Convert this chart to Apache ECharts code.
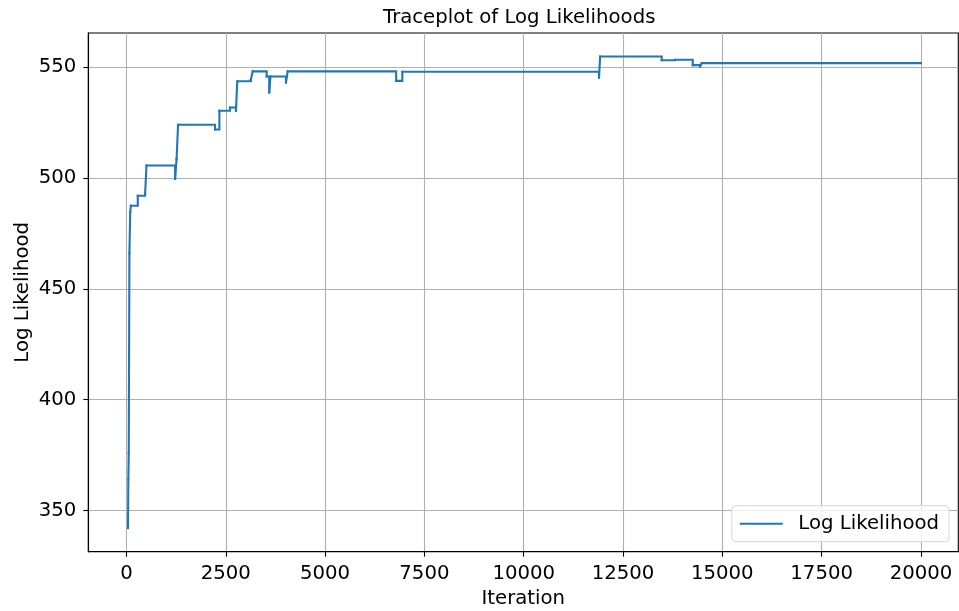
<!DOCTYPE html>
<html>
<head>
<meta charset="utf-8">
<script src="https://cdn.jsdelivr.net/npm/echarts@6/dist/echarts.min.js"></script>
<style>
html,body{margin:0;padding:0;background:#fff;}
#chart{width:959px;height:611px;}
</style>
</head>
<body>
<div id="chart"></div>
<script>
// Data (step-wise accepted states)
var iterations = [40, 48, 58, 75, 95, 112, 285, 470, 505, 1225, 1262, 1300, 2230, 2340, 2608, 2757, 2790, 3130, 3180, 3530, 3595, 3625, 4016, 4060, 6790, 6945, 11895, 11925, 13475, 13810, 14255, 14440, 14480, 20000];
var logLik = [342, 364, 376, 466, 484.7, 487.5, 492.0, 492.8, 505.6, 499.6, 508.5, 524.0, 521.9, 530.3, 531.8, 530.3, 543.6, 544.2, 548.1, 545.8, 538.6, 545.8, 543.1, 548.1, 543.8, 547.9, 545.3, 554.8, 553.1, 553.3, 550.9, 550.3, 551.8, 551.8];
var xTicks = [0, 2500, 5000, 7500, 10000, 12500, 15000, 17500, 20000];
var yTicks = [350, 400, 450, 500, 550];

var FS = 19.7;
var FONT = 'DejaVu Sans';
var LINE_COLOR = '#1f77b4';
function plain(v) { return String(v); }

// one short path per held state (hold value, then jump), so that tiny
// sub-pixel moves never swallow the long horizontal holds
var series = [];
for (var i = 0; i < iterations.length - 1; i++) {
  series.push({
    name: 'Log Likelihood',
    type: 'line',
    data: [[iterations[i], logLik[i]], [iterations[i + 1], logLik[i]], [iterations[i + 1], logLik[i + 1]]],
    showSymbol: false,
    symbol: 'none',
    lineStyle: {color: LINE_COLOR, width: 2.1, cap: 'square', join: 'miter'},
    itemStyle: {color: LINE_COLOR},
    clip: true,
    silent: true
  });
}

var chart = echarts.init(document.getElementById('chart'), null, {renderer: 'canvas'});
chart.setOption({
  animation: false,
  backgroundColor: '#ffffff',
  textStyle: {fontFamily: FONT},
  title: {
    text: 'Traceplot of Log Likelihoods',
    left: 383,
    top: 7.5,
    padding: 0,
    textStyle: {fontFamily: FONT, fontSize: FS, fontWeight: 'normal', color: '#000'}
  },
  grid: {
    left: 88.3, right: 0.7, top: 33, bottom: 59.3,
    outerBoundsMode: 'none',
    show: true, borderColor: '#000', borderWidth: 1.1, backgroundColor: 'transparent',
    containLabel: false
  },
  legend: {
    data: [{name: 'Log Likelihood', icon: 'rect'}],
    right: 10,
    bottom: 69.3,
    orient: 'vertical',
    padding: [8, 10, 8, 8],
    itemWidth: 43,
    itemHeight: 2.1,
    itemStyle: {color: LINE_COLOR, borderWidth: 0},
    backgroundColor: 'rgba(255,255,255,0.8)',
    borderColor: '#d6d6d6',
    borderWidth: 1,
    borderRadius: 4,
    textStyle: {fontFamily: FONT, fontSize: FS, color: '#000', padding: [0, 0, 0, 10.5], lineHeight: 20}
  },
  xAxis: {
    type: 'value',
    min: -960,
    max: 20940,
    name: 'Iteration',
    nameLocation: 'middle',
    nameGap: 37.6,
    nameMoveOverlap: false,
    nameTextStyle: {fontFamily: FONT, fontSize: FS, color: '#000'},
    axisLine: {show: true, onZero: false, lineStyle: {color: '#000', width: 1.1}},
    axisTick: {show: true, inside: false, length: 5, lineStyle: {color: '#000', width: 1.1}, customValues: xTicks},
    axisLabel: {show: true, margin: 12, fontFamily: FONT, fontSize: FS, color: '#000', customValues: xTicks, formatter: plain},
    splitLine: {show: true, lineStyle: {color: '#b0b0b0', width: 1.1}}
  },
  yAxis: {
    type: 'value',
    min: 331.4,
    max: 565.4,
    name: 'Log Likelihood',
    nameLocation: 'middle',
    nameGap: 55,
    nameMoveOverlap: false,
    nameTextStyle: {fontFamily: FONT, fontSize: FS, color: '#000'},
    axisLine: {show: true, onZero: false, lineStyle: {color: '#000', width: 1.1}},
    axisTick: {show: true, inside: false, length: 5, lineStyle: {color: '#000', width: 1.1}, customValues: yTicks},
    axisLabel: {show: true, margin: 12, fontFamily: FONT, fontSize: FS, color: '#000', customValues: yTicks, formatter: plain},
    splitLine: {show: true, lineStyle: {color: '#b0b0b0', width: 1.1}}
  },
  series: series
});
</script>
</body>
</html>
